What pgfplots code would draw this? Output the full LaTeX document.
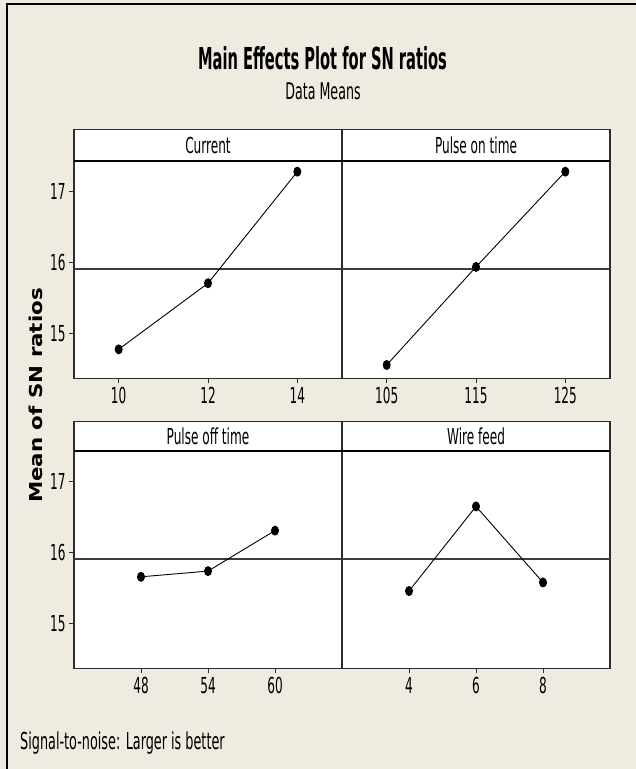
\documentclass[border=0pt]{standalone}
\usepackage{fontspec}
\usepackage{pgfplots}
\pgfplotsset{compat=1.18}
\setmainfont{DejaVu Sans}
\newfontfamily\regfont[FakeStretch=0.55]{DejaVu Sans}
\newfontfamily\titlefont[FakeStretch=0.485]{DejaVu Sans}
\newfontfamily\ylabfont[FakeStretch=1.2]{DejaVu Sans}
\definecolor{bg}{RGB}{239,235,225}
\definecolor{frame}{RGB}{45,45,45}
\definecolor{meanc}{RGB}{60,60,60}
\newcommand{\rf}{\regfont\fontsize{22bp}{24bp}\selectfont}
\pgfplotsset{
  panel/.style={
    scale only axis, width=268bp, height=217.5bp,
    ymin=14.37, ymax=17.43,
    axis line style={frame, line width=1.2bp},
    axis background/.style={fill=white},
    tick align=outside, major tick length=5bp,
    xtick pos=left, ytick pos=left,
    tick style={frame, line width=0.8bp},
    ticklabel style={font=\rf, text=black},
    /pgf/number format/assume math mode=true,
    clip=false,
  },
  dat/.style={black, line width=0.9bp, mark=*, mark size=4.5bp,
    mark options={xscale=0.78, fill=black, solid}},
  mline/.style={meanc, line width=1.3bp, no marks},
}
\begin{document}
\begin{tikzpicture}[x=1bp,y=1bp]
\useasboundingbox (0,0) rectangle (636,769);
\fill[bg] (0,0) rectangle (636,769);
\draw[black, line width=2.5bp] (7,0) -- (7,765) -- (636,765);

% top-left: Current
\begin{axis}[panel, at={(74bp,390.5bp)}, anchor=south west,
  xmin=9, xmax=15, xtick={10,12,14}, ytick={15,16,17}]
  \addplot[mline] coordinates {(9,15.91) (15,15.91)};
  \addplot[dat] coordinates {(10,14.78) (12,15.71) (14,17.28)};
\end{axis}
% top-right: Pulse on time
\begin{axis}[panel, at={(342bp,390.5bp)}, anchor=south west,
  xmin=100, xmax=130, xtick={105,115,125}, ytick=\empty]
  \addplot[mline] coordinates {(100,15.91) (130,15.91)};
  \addplot[dat] coordinates {(105,14.56) (115,15.94) (125,17.28)};
\end{axis}
% bottom-left: Pulse off time
\begin{axis}[panel, at={(74bp,100.5bp)}, anchor=south west,
  xmin=42, xmax=66, xtick={48,54,60}, ytick={15,16,17}]
  \addplot[mline] coordinates {(42,15.91) (66,15.91)};
  \addplot[dat] coordinates {(48,15.66) (54,15.74) (60,16.31)};
\end{axis}
% bottom-right: Wire feed
\begin{axis}[panel, at={(342bp,100.5bp)}, anchor=south west,
  xmin=2, xmax=10, xtick={4,6,8}, ytick=\empty]
  \addplot[mline] coordinates {(2,15.91) (10,15.91)};
  \addplot[dat] coordinates {(4,15.46) (6,16.65) (8,15.58)};
\end{axis}

% headers
\foreach \yb/\yt in {608/639.7, 318/347.3}{
  \fill[white] (74,\yb) rectangle (610,\yt);
  \draw[frame, line width=1.2bp] (74,\yb) rectangle (610,\yt);
  \draw[frame, line width=1.2bp] (342,\yb) -- (342,\yt);
  \draw[black, line width=2bp] (74,\yb) -- (610,\yb);
}
\node[font=\rf, anchor=base, inner sep=0] at (208,615.9) {Current};
\node[font=\rf, anchor=base, inner sep=0] at (476,615.9) {Pulse on time};
\node[font=\rf, anchor=base, inner sep=0] at (208,324.6) {Pulse off time};
\node[font=\rf, anchor=base, inner sep=0] at (476,324.6) {Wire feed};

% titles
\node[font=\titlefont\bfseries\fontsize{30.2bp}{32bp}\selectfont, anchor=base, inner sep=0] at (322.5,699.7) {Main Effects Plot for SN ratios};
\node[font=\regfont\fontsize{23bp}{25bp}\selectfont, anchor=base, inner sep=0] at (323,669.7) {Data Means};
\node[font=\ylabfont\bfseries\fontsize{17.8bp}{19bp}\selectfont, rotate=90, anchor=base, inner sep=0] at (42,373.5) {Mean of SN ratios};
\node[font=\regfont\fontsize{23.3bp}{25bp}\selectfont, anchor=base west, inner sep=0] at (20,19) {Signal-to-noise: Larger is better};
\end{tikzpicture}
\end{document}
